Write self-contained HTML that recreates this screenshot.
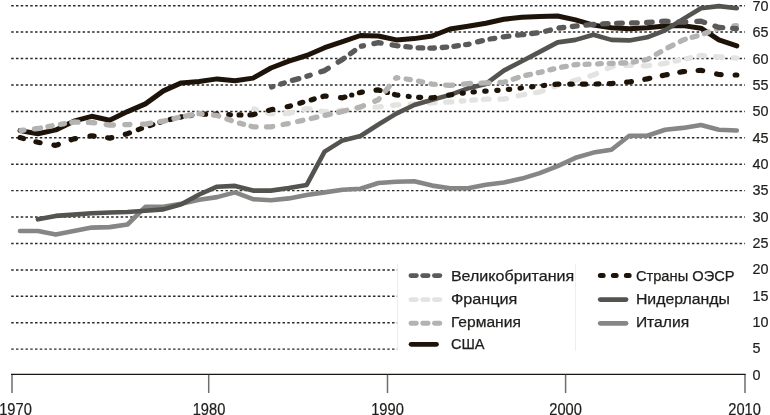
<!DOCTYPE html><html><head><meta charset="utf-8"><style>html,body{margin:0;padding:0;background:#fff}svg{display:block}text{font-family:"Liberation Sans",sans-serif;fill:#1d1d1b}</style></head><body>
<svg width="770" height="415" viewBox="0 0 770 415">
<rect width="770" height="415" fill="#fff"/>
<line x1="11.2" x2="745" y1="349.1" y2="349.1" stroke="#2a2a2a" stroke-width="1.45" stroke-dasharray="2.5 2.26"/>
<line x1="11.2" x2="745" y1="322.7" y2="322.7" stroke="#2a2a2a" stroke-width="1.45" stroke-dasharray="2.5 2.26"/>
<line x1="11.2" x2="745" y1="296.3" y2="296.3" stroke="#2a2a2a" stroke-width="1.45" stroke-dasharray="2.5 2.26"/>
<line x1="11.2" x2="745" y1="269.9" y2="269.9" stroke="#2a2a2a" stroke-width="1.45" stroke-dasharray="2.5 2.26"/>
<line x1="11.2" x2="745" y1="243.5" y2="243.5" stroke="#2a2a2a" stroke-width="1.45" stroke-dasharray="2.5 2.26"/>
<line x1="11.2" x2="745" y1="217.0" y2="217.0" stroke="#2a2a2a" stroke-width="1.45" stroke-dasharray="2.5 2.26"/>
<line x1="11.2" x2="745" y1="190.6" y2="190.6" stroke="#2a2a2a" stroke-width="1.45" stroke-dasharray="2.5 2.26"/>
<line x1="11.2" x2="745" y1="164.2" y2="164.2" stroke="#2a2a2a" stroke-width="1.45" stroke-dasharray="2.5 2.26"/>
<line x1="11.2" x2="745" y1="137.8" y2="137.8" stroke="#2a2a2a" stroke-width="1.45" stroke-dasharray="2.5 2.26"/>
<line x1="11.2" x2="745" y1="111.4" y2="111.4" stroke="#2a2a2a" stroke-width="1.45" stroke-dasharray="2.5 2.26"/>
<line x1="11.2" x2="745" y1="84.9" y2="84.9" stroke="#2a2a2a" stroke-width="1.45" stroke-dasharray="2.5 2.26"/>
<line x1="11.2" x2="745" y1="58.5" y2="58.5" stroke="#2a2a2a" stroke-width="1.45" stroke-dasharray="2.5 2.26"/>
<line x1="11.2" x2="745" y1="32.1" y2="32.1" stroke="#2a2a2a" stroke-width="1.45" stroke-dasharray="2.5 2.26"/>
<line x1="11.2" x2="745" y1="5.7" y2="5.7" stroke="#2a2a2a" stroke-width="1.45" stroke-dasharray="2.5 2.26"/>
<rect x="397.5" y="262" width="348" height="92" fill="#fff"/>
<line x1="397.7" x2="397.7" y1="264" y2="351" stroke="#ececec" stroke-width="1"/>
<line x1="575.5" x2="575.5" y1="264" y2="351" stroke="#eee" stroke-width="1"/>
<path d="M12 393V374.3M745 374.3V393" fill="none" stroke="#6e6e6e" stroke-width="1.5"/>
<path d="M11 374.3H745.6" fill="none" stroke="#1a1510" stroke-width="1.35"/>
<line x1="208.7" x2="208.7" y1="374.8" y2="393" stroke="#6e6e6e" stroke-width="1.5"/>
<line x1="387.5" x2="387.5" y1="374.8" y2="393" stroke="#6e6e6e" stroke-width="1.5"/>
<line x1="565.6" x2="565.6" y1="374.8" y2="393" stroke="#6e6e6e" stroke-width="1.5"/>
<path d="M20.0 231.0 L37.9 231.0 L55.8 234.6 L73.8 231.0 L91.7 227.6 L109.6 227.1 L127.5 224.5 L145.4 206.8 L163.4 206.8 L181.3 203.7 L199.2 199.7 L217.1 197.1 L235.0 192.4 L253.0 199.2 L270.9 200.2 L288.8 198.4 L306.7 195.0 L324.6 192.4 L342.6 189.8 L360.5 188.8 L378.4 183.0 L396.3 181.7 L414.2 181.2 L432.2 185.6 L450.1 188.2 L468.0 188.2 L485.9 184.8 L503.8 182.5 L521.8 178.6 L539.7 173.1 L557.6 166.1 L575.5 157.8 L593.4 152.6 L611.4 149.7 L629.3 135.7 L647.2 135.7 L665.1 129.7 L683.0 127.9 L701.0 125.0 L718.9 129.7 L736.8 130.5" fill="none" stroke="#868684" stroke-width="4.6" stroke-linecap="round" stroke-linejoin="round"/>
<path d="M253.9 108.9 L256.2 109.5M267.5 112.9 L270.9 113.9 L272.8 113.8M285.2 113.5 L288.8 113.4 L292.4 112.4M303.9 109.4 L306.7 108.6 L310.1 109.2M320.9 111.2 L324.6 111.9 L326.7 111.7M338.6 110.6 L342.2 110.2M356.2 108.4 L359.9 108.0M374.9 107.1 L378.4 106.9 L381.2 106.6M392.6 105.3 L396.3 104.9 L398.8 104.8M410.3 104.1 L414.2 103.9 L415.4 103.8M429.0 103.1 L432.2 102.9 L435.2 102.7M445.6 102.1 L450.1 101.9 L451.8 101.8M461.2 101.0 L464.0 100.8M471.6 100.2 L475.7 99.9M483.4 99.4 L485.9 99.2 L489.0 99.2M500.0 99.2 L503.8 99.2 L506.4 98.6M518.3 95.8 L521.8 95.0 L524.7 94.5M535.6 92.6 L539.7 91.9 L543.0 90.7M553.9 86.7 L557.5 85.4M572.2 81.2 L575.5 80.2 L578.8 79.3M590.0 76.0 L593.4 75.0 L596.5 73.6M607.4 68.5 L611.4 66.6 L613.3 66.5M625.8 65.5 L629.3 65.3 L631.4 65.4M643.3 65.8 L647.2 65.9 L649.7 65.5M660.6 64.0 L665.1 63.3 L667.1 62.9M675.1 61.1 L678.6 60.4M686.5 58.6 L690.6 57.8M699.0 55.9 L701.0 55.5 L704.6 55.8M715.6 56.6 L718.9 56.8 L722.2 57.0M733.2 57.8 L736.8 58.1" fill="none" stroke="#e3e3e2" stroke-width="5.3" stroke-linecap="round" stroke-linejoin="round"/>
<path d="M20.0 130.6 L37.9 133.7 L55.8 129.9 L73.8 121.2 L91.7 116.3 L109.6 120.2 L127.5 111.6 L145.4 103.9 L163.4 90.9 L181.3 82.9 L199.2 81.5 L217.1 78.9 L235.0 80.7 L253.0 78.1 L270.9 68.0 L288.8 61.2 L306.7 55.5 L324.6 47.7 L342.6 41.7 L360.5 35.5 L378.4 36.0 L396.3 39.9 L414.2 38.6 L432.2 36.0 L450.1 29.0 L468.0 26.3 L485.9 23.2 L503.8 19.3 L521.8 17.3 L539.7 16.5 L557.6 16.0 L575.5 19.9 L593.4 25.1 L611.4 27.7 L629.3 28.7 L647.2 27.7 L665.1 26.1 L683.0 25.6 L701.0 28.2 L718.9 39.9 L736.8 45.9" fill="none" stroke="#1d1309" stroke-width="5.0" stroke-linecap="round" stroke-linejoin="round"/>
<path d="M37.9 219.3 L55.8 215.9 L73.8 214.6 L91.7 213.3 L109.6 212.5 L127.5 212.0 L145.4 210.7 L163.4 209.4 L181.3 204.2 L199.2 194.5 L217.1 186.7 L235.0 185.9 L253.0 190.6 L270.9 190.6 L288.8 188.0 L306.7 184.9 L324.6 151.6 L342.6 140.4 L360.5 136.0 L378.4 124.5 L396.3 113.6 L414.2 105.0 L432.2 99.8 L450.1 94.9 L468.0 88.3 L485.9 83.9 L503.8 70.6 L521.8 61.2 L539.7 51.9 L557.6 42.4 L575.5 39.9 L593.4 34.7 L611.4 39.9 L629.3 40.4 L647.2 37.3 L665.1 30.3 L683.0 19.1 L701.0 8.2 L718.9 6.1 L736.8 8.2" fill="none" stroke="#545350" stroke-width="4.6" stroke-linecap="round" stroke-linejoin="round"/>
<path d="M20.0 137.6 L23.5 138.5M35.9 141.8 L37.9 142.3 L40.1 142.7M53.9 145.1 L55.8 145.4 L58.3 144.5M71.2 139.8 L73.8 138.9 L75.6 138.6M90.0 136.1 L91.7 135.8 L94.2 136.1M107.6 137.8 L109.6 138.1 L111.8 137.6M125.3 134.3 L127.5 133.7 L129.5 132.9M138.3 129.6 L141.5 128.4M149.8 125.5 L152.8 124.6M160.0 122.3 L162.0 121.6M170.0 119.6 L172.0 119.1M180.0 117.2 L181.3 116.9 L182.0 116.8M190.1 115.6 L191.9 115.3M203.8 114.2 L205.6 114.2M215.1 114.2 L216.9 114.2M228.7 114.7 L230.5 114.8M239.1 114.9 L240.9 114.9M249.9 114.8 L253.0 114.7 L255.1 114.1M268.5 110.4 L270.9 109.8 L272.8 109.4M287.2 106.7 L288.8 106.4 L290.5 105.9M299.8 103.2 L302.8 102.3M311.2 99.9 L314.2 99.0M322.9 96.5 L324.6 96.0 L326.2 96.2M340.5 97.6 L342.6 97.8 L344.9 97.1M351.7 95.0 L351.8 95.0M359.4 92.7 L360.5 92.4 L362.4 92.1M376.0 90.2 L378.4 89.9 L380.1 90.4M387.2 92.4 L387.4 92.4M394.5 94.5 L396.3 95.0 L397.9 95.2M408.2 96.4 L409.2 96.5M418.6 97.3 L420.7 97.4M431.0 97.8 L432.2 97.9 L434.6 97.5M448.6 95.2 L450.1 95.0 L451.8 94.7M462.2 93.2 L463.3 93.1M473.0 92.0 L474.4 91.9M484.7 91.2 L485.9 91.1 L486.1 91.1M496.7 90.4 L498.1 90.3M508.3 89.4 L509.7 89.3M520.0 88.2 L521.4 88.0M531.6 86.8 L533.0 86.7M543.3 85.5 L544.7 85.4M554.9 84.4 L557.6 84.1 L558.8 84.1M569.8 84.1 L572.1 84.1M582.3 84.1 L585.7 84.1M595.9 84.0 L599.0 83.9M609.2 83.7 L611.4 83.6 L613.1 83.4M626.6 82.2 L629.3 82.0 L631.4 81.6M644.8 79.3 L647.2 78.9 L649.8 78.3M662.3 75.6 L665.1 75.0 L667.2 74.6M679.8 72.2 L683.0 71.6 L684.6 71.5M698.1 70.5 L701.0 70.3 L702.7 70.7M716.6 74.0 L718.9 74.5 L721.2 74.6M735.2 75.0 L736.8 75.0" fill="none" stroke="#1d1309" stroke-width="5.2" stroke-linecap="round" stroke-linejoin="round"/>
<path d="M20.9 130.5 L24.0 130.1M34.4 128.9 L37.9 128.5 L40.6 128.0M47.9 126.6 L52.1 125.8M60.4 124.3 L64.5 123.6M71.8 122.3 L73.8 122.0 L78.0 122.1M88.4 122.4 L91.7 122.5 L94.7 122.9M106.1 124.6 L109.6 125.1 L113.4 125.0M124.8 124.7 L127.5 124.6 L130.0 124.5M142.5 124.2 L145.4 124.1 L150.8 123.2M160.1 121.7 L163.4 121.2 L165.7 120.6M174.0 118.6 L178.2 117.5M185.5 116.1 L191.7 115.0M199.0 113.7 L199.2 113.7 L202.1 114.0M213.5 115.1 L217.1 115.4 L218.7 116.0M226.9 118.9 L231.3 120.5M239.5 123.1 L243.6 124.3M251.0 126.3 L253.0 126.8 L256.1 126.8M266.5 126.8 L270.9 126.8 L272.7 126.5M283.1 124.5 L288.3 123.6M297.6 121.5 L302.9 120.3M311.2 118.5 L316.8 117.2M325.1 115.3 L330.3 114.1M338.6 112.3 L342.6 111.4 L346.9 110.3M357.3 107.7 L360.5 106.9 L363.5 105.7M374.8 101.2 L378.4 99.7 L379.2 98.7M385.5 91.0 L389.3 86.2M395.7 78.3 L396.3 77.6 L397.8 77.8M406.1 79.0 L410.3 79.6M418.6 81.1 L422.7 82.0M431.0 83.9 L432.2 84.1 L435.2 84.3M445.6 85.1 L450.1 85.4 L452.9 85.1M463.4 84.1 L468.0 83.6 L470.7 83.5M480.9 83.1 L485.9 82.9 L489.0 82.8M500.0 82.4 L503.8 82.3 L505.6 81.7M513.2 79.2 L518.2 77.5M525.8 75.4 L530.5 74.4M538.2 72.7 L539.7 72.4 L542.2 71.8M549.9 69.9 L553.8 68.9M561.6 67.2 L566.3 66.4M574.0 64.9 L575.5 64.6 L577.9 64.5M585.1 64.3 L589.0 64.2M597.6 63.9 L601.4 63.7M609.2 63.4 L611.4 63.3 L613.1 63.3M620.8 63.0 L625.6 62.9M633.3 62.1 L636.4 61.5M644.1 60.1 L647.2 59.5 L648.9 58.5M656.3 54.2 L660.7 51.7M668.0 47.7 L673.0 45.1M680.4 41.4 L683.0 40.0 L685.3 39.3M692.2 37.3 L696.9 36.0M704.5 33.5 L708.5 32.1M716.5 29.2 L718.9 28.3 L719.5 28.2M733.9 26.0 L736.4 25.7" fill="none" stroke="#b4b3b1" stroke-width="5.3" stroke-linecap="round" stroke-linejoin="round"/>
<path d="M271.6 87.0 L272.8 86.6M280.9 84.0 L284.3 82.9M292.4 80.4 L298.8 78.6M306.9 76.2 L310.2 75.2M320.8 71.8 L324.6 70.6 L328.3 68.3M338.2 62.1 L342.6 59.4 L344.2 58.2M350.5 53.6 L354.7 50.6M361.4 46.2 L363.5 45.8M373.9 43.6 L378.4 42.6 L381.1 43.1M392.1 44.9 L396.3 45.6 L398.0 45.8M405.8 46.7 L410.3 47.2M418.1 47.8 L422.7 47.9M429.8 48.1 L432.2 48.2 L434.4 48.0M442.2 47.5 L446.7 47.1M453.9 46.4 L458.4 45.7M465.6 44.7 L468.0 44.4 L469.0 44.1M477.6 41.9 L482.4 40.6M490.0 39.0 L494.8 38.3M503.3 36.9 L503.8 36.8 L508.9 36.2M517.5 35.2 L521.8 34.7 L523.9 34.5M531.6 33.5 L537.2 32.9M545.6 31.2 L550.4 30.0M559.0 28.0 L563.8 27.5M572.3 26.5 L575.5 26.1 L577.1 25.9M585.9 25.1 L593.4 24.3 L594.0 24.3M602.6 23.9 L608.1 23.6M616.6 23.4 L622.3 23.2M631.6 22.9 L637.2 22.8M646.6 22.5 L647.2 22.5 L652.2 22.1M661.6 21.5 L665.1 21.2 L668.1 21.4M678.6 22.0 L683.0 22.2 L685.8 22.0M696.8 21.4 L701.0 21.2 L704.6 22.4M715.0 26.1 L718.9 27.4 L722.8 27.7M732.6 28.4 L736.4 28.7" fill="none" stroke="#5b5a58" stroke-width="5.3" stroke-linecap="round" stroke-linejoin="round"/>
<text x="752.6" y="379.6" font-size="14.4" stroke="#1d1d1b" stroke-width="0.2">0</text>
<text x="752.6" y="353.3" font-size="14.4" stroke="#1d1d1b" stroke-width="0.2">5</text>
<text x="752.6" y="326.9" font-size="14.4" stroke="#1d1d1b" stroke-width="0.2">10</text>
<text x="752.6" y="300.6" font-size="14.4" stroke="#1d1d1b" stroke-width="0.2">15</text>
<text x="752.6" y="274.2" font-size="14.4" stroke="#1d1d1b" stroke-width="0.2">20</text>
<text x="752.6" y="247.9" font-size="14.4" stroke="#1d1d1b" stroke-width="0.2">25</text>
<text x="752.6" y="221.6" font-size="14.4" stroke="#1d1d1b" stroke-width="0.2">30</text>
<text x="752.6" y="195.2" font-size="14.4" stroke="#1d1d1b" stroke-width="0.2">35</text>
<text x="752.6" y="168.8" font-size="14.4" stroke="#1d1d1b" stroke-width="0.2">40</text>
<text x="752.6" y="142.5" font-size="14.4" stroke="#1d1d1b" stroke-width="0.2">45</text>
<text x="752.6" y="116.2" font-size="14.4" stroke="#1d1d1b" stroke-width="0.2">50</text>
<text x="752.6" y="89.8" font-size="14.4" stroke="#1d1d1b" stroke-width="0.2">55</text>
<text x="752.6" y="63.5" font-size="14.4" stroke="#1d1d1b" stroke-width="0.2">60</text>
<text x="752.6" y="37.1" font-size="14.4" stroke="#1d1d1b" stroke-width="0.2">65</text>
<text x="752.6" y="10.8" font-size="14.4" stroke="#1d1d1b" stroke-width="0.2">70</text>
<text x="15.5" y="415.3" font-size="15.6" text-anchor="middle" textLength="32.6" lengthAdjust="spacingAndGlyphs" stroke="#1d1d1b" stroke-width="0.2">1970</text>
<text x="209" y="415.3" font-size="15.6" text-anchor="middle" textLength="32.6" lengthAdjust="spacingAndGlyphs" stroke="#1d1d1b" stroke-width="0.2">1980</text>
<text x="387.5" y="415.3" font-size="15.6" text-anchor="middle" textLength="32.6" lengthAdjust="spacingAndGlyphs" stroke="#1d1d1b" stroke-width="0.2">1990</text>
<text x="565.6" y="415.3" font-size="15.6" text-anchor="middle" textLength="32.6" lengthAdjust="spacingAndGlyphs" stroke="#1d1d1b" stroke-width="0.2">2000</text>
<text x="744.6" y="415.3" font-size="15.6" text-anchor="middle" textLength="32.6" lengthAdjust="spacingAndGlyphs" stroke="#1d1d1b" stroke-width="0.2">2010</text>
<line x1="410.95" x2="439.85" y1="275.6" y2="275.6" stroke="#5b5a58" stroke-width="4.9" stroke-linecap="round" stroke-dasharray="5.4 6.35"/>
<text x="450.9" y="280.6" font-size="15.3" textLength="123.3" lengthAdjust="spacingAndGlyphs" stroke="#1d1d1b" stroke-width="0.25">Великобритания</text>
<line x1="410.95" x2="439.85" y1="299.6" y2="299.6" stroke="#e3e3e2" stroke-width="4.9" stroke-linecap="round" stroke-dasharray="5.4 6.35"/>
<text x="450.9" y="303.5" font-size="15.3" textLength="66.4" lengthAdjust="spacingAndGlyphs" stroke="#1d1d1b" stroke-width="0.25">Франция</text>
<line x1="410.95" x2="439.85" y1="323.3" y2="323.3" stroke="#b4b3b1" stroke-width="4.9" stroke-linecap="round" stroke-dasharray="5.4 6.35"/>
<text x="450.9" y="327.1" font-size="15.3" textLength="70.0" lengthAdjust="spacingAndGlyphs" stroke="#1d1d1b" stroke-width="0.25">Германия</text>
<line x1="411.10" x2="436.50" y1="344.3" y2="344.3" stroke="#1d1309" stroke-width="4.8" stroke-linecap="round" />
<text x="450.9" y="349.2" font-size="15.3" textLength="33.7" lengthAdjust="spacingAndGlyphs" stroke="#1d1d1b" stroke-width="0.25">США</text>
<line x1="600.35" x2="629.15" y1="275.6" y2="275.6" stroke="#1d1309" stroke-width="5.0" stroke-linecap="round" stroke-dasharray="2.8 10.2"/>
<text x="635.9" y="280.6" font-size="15.3" textLength="98.7" lengthAdjust="spacingAndGlyphs" stroke="#1d1d1b" stroke-width="0.25">Страны ОЭСР</text>
<line x1="600.23" x2="626.02" y1="299.6" y2="299.6" stroke="#545350" stroke-width="4.75" stroke-linecap="round" />
<text x="635.9" y="303.5" font-size="15.3" textLength="94.10000000000001" lengthAdjust="spacingAndGlyphs" stroke="#1d1d1b" stroke-width="0.25">Нидерланды</text>
<line x1="600.23" x2="626.02" y1="323.3" y2="323.3" stroke="#868684" stroke-width="4.75" stroke-linecap="round" />
<text x="635.9" y="327.1" font-size="15.3" textLength="53.2" lengthAdjust="spacingAndGlyphs" stroke="#1d1d1b" stroke-width="0.25">Италия</text>
</svg></body></html>
